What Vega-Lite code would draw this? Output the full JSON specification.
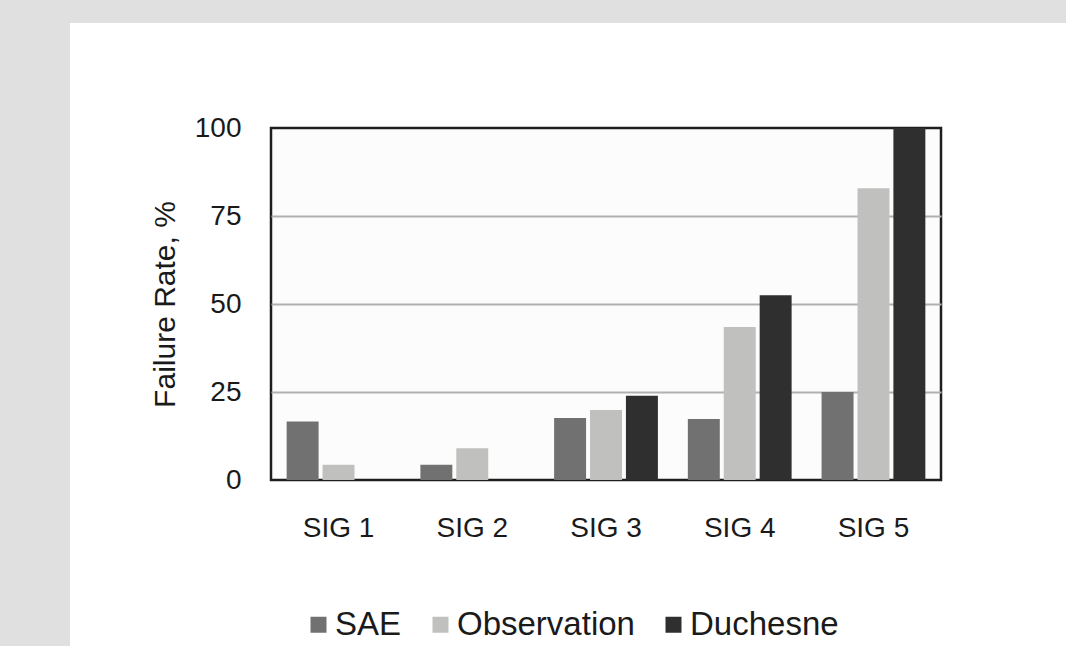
{
  "$schema": "https://vega.github.io/schema/vega-lite/v6.json",
  "padding": 0,
  "background": "white",
  "config": {"view": {"stroke": null}, "font": "Liberation Sans"},
  "spacing": 0,
  "bounds": "flush",
  "resolve": {"scale": {"color": "independent"}, "legend": {"color": "independent"}},
  "hconcat": [
    {
      "width": 70,
      "height": 646,
      "data": {"values": []},
      "mark": {"type": "point", "opacity": 0},
      "encoding": {},
      "view": {"fill": "#e0e0e0", "stroke": null}
    },
    {
      "spacing": 105,
      "bounds": "flush",
      "resolve": {"scale": {"color": "independent"}, "legend": {"color": "independent"}},
      "vconcat": [
        {
          "width": 996,
          "height": 23,
          "data": {"values": []},
          "mark": {"type": "point", "opacity": 0},
          "encoding": {},
          "view": {"fill": "#e0e0e0", "stroke": null}
        },
        {
          "spacing": 200,
          "bounds": "flush",
          "resolve": {"scale": {"color": "independent"}, "legend": {"color": "independent"}},
          "hconcat": [
            {
              "width": 1,
              "height": 1,
              "data": {"values": []},
              "mark": {"type": "point", "opacity": 0},
              "encoding": {},
              "view": {"stroke": null}
            },
            {
              "width": 670,
              "height": 352,
              "data": {"values": [
                {"sig": "SIG 1", "series": "SAE", "value": 16.6},
                {"sig": "SIG 1", "series": "Observation", "value": 4.3},
                {"sig": "SIG 1", "series": "Duchesne", "value": 0},
                {"sig": "SIG 2", "series": "SAE", "value": 4.3},
                {"sig": "SIG 2", "series": "Observation", "value": 9.0},
                {"sig": "SIG 2", "series": "Duchesne", "value": 0},
                {"sig": "SIG 3", "series": "SAE", "value": 17.6},
                {"sig": "SIG 3", "series": "Observation", "value": 19.9},
                {"sig": "SIG 3", "series": "Duchesne", "value": 23.9},
                {"sig": "SIG 4", "series": "SAE", "value": 17.3},
                {"sig": "SIG 4", "series": "Observation", "value": 43.5},
                {"sig": "SIG 4", "series": "Duchesne", "value": 52.5},
                {"sig": "SIG 5", "series": "SAE", "value": 25.0},
                {"sig": "SIG 5", "series": "Observation", "value": 82.9},
                {"sig": "SIG 5", "series": "Duchesne", "value": 100}
              ]},
              "mark": {"type": "bar"},
              "view": {"fill": "#fcfcfc", "stroke": "#1e1e1e", "strokeWidth": 2.5},
              "encoding": {
                "x": {
                  "field": "sig", "type": "nominal", "sort": null,
                  "scale": {"paddingInner": 0.224, "paddingOuter": 0.117},
                  "axis": {"title": null, "labelAngle": 0, "labelFontSize": 28, "labelColor": "#1a1a1a", "ticks": false, "tickSize": 0, "domain": false, "labelPadding": 34, "grid": false}
                },
                "xOffset": {
                  "field": "series", "type": "nominal", "sort": ["SAE", "Observation", "Duchesne"],
                  "scale": {"paddingInner": 0.11}
                },
                "y": {
                  "field": "value", "type": "quantitative",
                  "scale": {"domain": [0, 100], "nice": false},
                  "axis": {
                    "values": [0, 25, 50, 75, 100],
                    "title": "Failure Rate, %", "titleFontSize": 30, "titleFontWeight": "normal", "titleColor": "#1a1a1a", "titlePadding": 14,
                    "labelFontSize": 28, "labelColor": "#1a1a1a", "labelPadding": 30,
                    "ticks": false, "tickSize": 0, "domain": false,
                    "grid": true,
                    "gridColor": {"condition": {"test": "datum.value === 0 || datum.value === 100", "value": "transparent"}, "value": "#b0b0b0"},
                    "gridWidth": 2
                  }
                },
                "color": {
                  "field": "series", "type": "nominal", "sort": ["SAE", "Observation", "Duchesne"],
                  "scale": {"domain": ["SAE", "Observation", "Duchesne"], "range": ["#717171", "#c0c0be", "#2f2f2f"]},
                  "legend": {
                    "orient": "none", "legendX": 31, "legendY": 480, "direction": "horizontal",
                    "title": null, "symbolType": "square", "symbolSize": 256, "symbolStrokeWidth": 0, "symbolOpacity": 1,
                    "labelFontSize": 33, "labelLimit": 400, "labelColor": "#1a1a1a", "labelOffset": 0, "columnPadding": 22, "padding": 0
                  }
                }
              }
            }
          ]
        }
      ]
    }
  ]
}
